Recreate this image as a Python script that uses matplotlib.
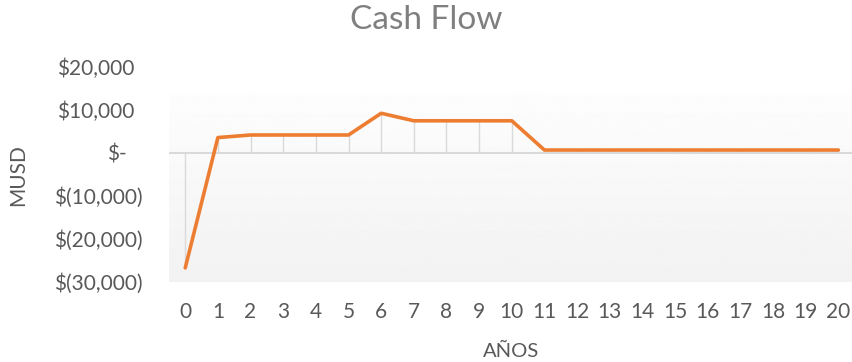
import numpy as np
import matplotlib.pyplot as plt
from matplotlib.transforms import ScaledTranslation

# Cash flow per year (MUSD)
years = list(range(21))
cash_flow = [-26800, 3500, 4100, 4100, 4100, 4100, 9150, 7400, 7400, 7400, 7400,
             600, 600, 600, 600, 600, 600, 600, 600, 600, 600]
y_ticks = [20000, 10000, 0, -10000, -20000, -30000]
y_tick_labels = ["$20,000", "$10,000", "$-", "$(10,000)", "$(20,000)", "$(30,000)"]

plt.rcParams["font.family"] = ["Lato", "DejaVu Sans"]
text_color = "#595959"
grid_color = "#d9d9d9"

fig = plt.figure(figsize=(8.53, 3.62), dpi=100)
ax = fig.add_axes([0.198, 0.222, 0.804, 0.594])

# plot area with a light vertical gradient
plot_top = 13900
grad = np.linspace(0.949, 0.993, 256).reshape(-1, 1)
ax.imshow(grad, cmap="gray", vmin=0, vmax=1, origin="lower", aspect="auto",
          extent=[-0.5, 20.5, -30000, plot_top], zorder=0)
ax.set_xlim(-0.5, 20.5)
ax.set_ylim(-30000, 20000)

# zero line and drop lines
ax.axhline(0, color=grid_color, lw=1.4, zorder=1)
ax.vlines(years, 0, cash_flow, color=grid_color, lw=1.0, zorder=1)

ax.plot(years, cash_flow, color="#ED7D31", lw=2.6, solid_capstyle="round",
        solid_joinstyle="round", zorder=3)

for side in ax.spines.values():
    side.set_visible(False)

ax.set_xticks(years)
ax.set_xticklabels([str(y) for y in years])
ax.set_yticks(y_ticks)
ax.set_yticklabels(y_tick_labels)
ax.tick_params(length=0, labelsize=15, colors=text_color)
ax.tick_params(axis="x", pad=15)
ax.tick_params(axis="y", pad=19)

# accounting style alignment: positives and "$-" leave room for ")"
shifts = {"$20,000": -0.08, "$10,000": -0.08, "$-": -0.16}
for lab in ax.get_yticklabels():
    dx = shifts.get(lab.get_text(), 0)
    lab.set_transform(lab.get_transform() + ScaledTranslation(dx, 0, fig.dpi_scale_trans))

fig.text(0.5, 0.945, "Cash Flow", ha="center", va="center", fontsize=24, color="#7f7f7f")
fig.text(0.021, 0.517, "MUSD", rotation=90, ha="center", va="center", fontsize=15,
         color=text_color)
fig.text(0.599, 0.03, "AÑOS", ha="center", va="center", fontsize=14.5, color=text_color)

fig.savefig("out.png", dpi=100)
